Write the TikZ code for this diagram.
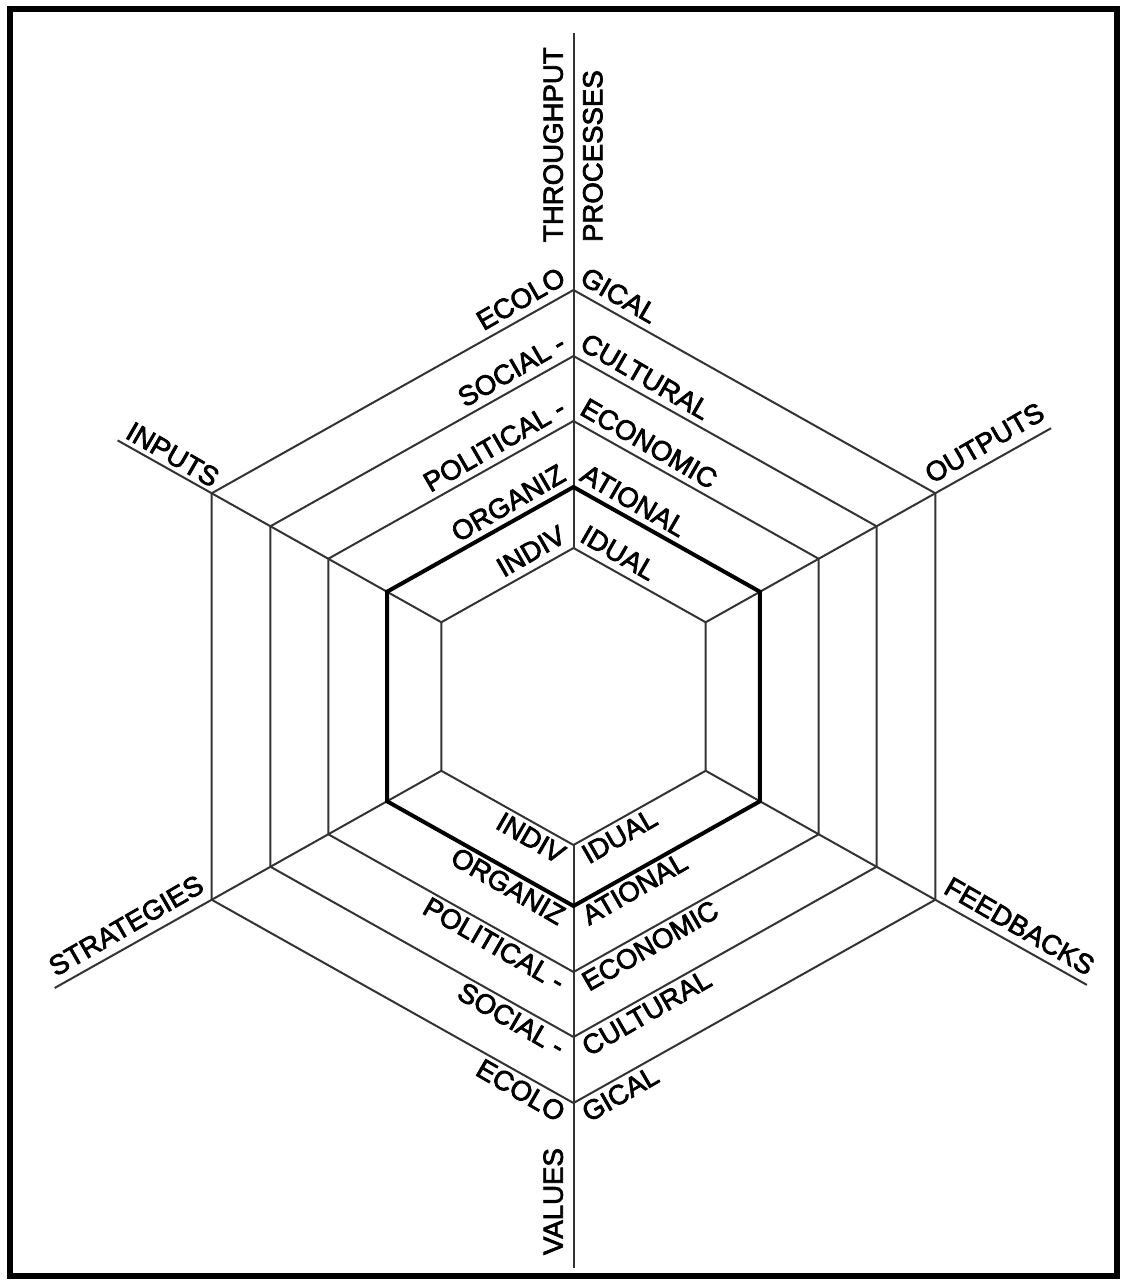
\documentclass[tikz,border=0pt]{standalone}
\usepackage{fontspec}
\setmainfont{Liberation Sans}
\newfontfamily\lblfont{Liberation Sans}[BoldFont={Liberation Sans}, BoldFeatures={FakeBold=2.6}]
\usetikzlibrary{calc}
\begin{document}
\begin{tikzpicture}[x=0.5pt,y=-0.5pt,
  hexline/.style={draw=black!80, line width=1pt},
  thickhex/.style={draw=black, line width=2pt},
  spoke/.style={draw=black!80, line width=1pt},
  lbl/.style={font=\lblfont\bfseries\fontsize{13.8}{16}\selectfont, inner sep=0pt, outer sep=0pt},
]
\useasboundingbox (0,0) rectangle (1122,1282);
\draw[line width=3pt] (10,9) rectangle (1117,1276);
\coordinate (C) at (573.5,696.5);
\foreach \i/\r in {1/148.5,2/209.5,3/275.5,4/340.5,5/406.5}{
  \coordinate (T\i) at ($(C)+(0,-\r)$);
  \coordinate (B\i) at ($(C)+(0,\r)$);
  \coordinate (UR\i) at ($(C)+({0.89*\r},{-\r/2})$);
  \coordinate (LR\i) at ($(C)+({0.89*\r},{\r/2})$);
  \coordinate (UL\i) at ($(C)+({-0.89*\r},{-\r/2})$);
  \coordinate (LL\i) at ($(C)+({-0.89*\r},{\r/2})$);
}
\coordinate (topend) at (573.5,33);
\coordinate (botend) at (573.5,1268);
\coordinate (inend) at ($(C)!1.26!(UL5)$);
\coordinate (outend) at ($(C)!1.32!(UR5)$);
\coordinate (strend) at ($(C)!1.434!(LL5)$);
\coordinate (feedend) at ($(C)!1.419!(LR5)$);
% spokes
\draw[spoke] (topend) -- (T1);
\draw[spoke] (B1) -- (botend);
\draw[spoke] (inend) -- (UL1);
\draw[spoke] (outend) -- (UR1);
\draw[spoke] (strend) -- (LL1);
\draw[spoke] (feedend) -- (LR1);
% hexagons
\foreach \i in {1,3,4,5}{
  \draw[hexline] (T\i) -- (UR\i) -- (LR\i) -- (B\i) -- (LL\i) -- (UL\i) -- cycle;
}
\draw[thickhex] (T2) -- (UR2) -- (LR2) -- (B2) -- (LL2) -- (UL2) -- cycle;
% ring labels
\foreach \i/\a/\b in {5/ECOLO/GICAL,4/SOCIAL -/CULTURAL,3/POLITICAL -/ECONOMIC,2/ORGANIZ/ATIONAL,1/INDIV/IDUAL}{
  \node[lbl, rotate=30, anchor=south east] (tl\i) at ($(T\i)+(-6,-7)$) {\a};
  \node[lbl, rotate=-30, anchor=south west] (tr\i) at ($(T\i)+(5,-7)$) {\b};
  \node[lbl, rotate=-30, anchor=north east] (bl\i) at ($(B\i)+(-6,3)$) {\a};
  \node[lbl, rotate=30, anchor=north west] (br\i) at ($(B\i)+(6,3)$) {\b};
}
% outer labels
\node[lbl, rotate=90, anchor=south west] (thr) at (563,242) {THROUGHPUT};
\node[lbl, rotate=90, anchor=north west] (proc) at (583,242) {PROCESSES};
\node[lbl, rotate=90, anchor=south west] (val) at (563,1255) {VALUES};
\node[lbl, rotate=-30, anchor=south east] (inp) at ($(UL5)+(0,-5)$) {INPUTS};
\node[lbl, rotate=30, anchor=south west] (outp) at ($(UR5)+(-3,-9)$) {OUTPUTS};
\node[lbl, rotate=30, anchor=south east] (strat) at ($(LL5)+(-6,-9)$) {STRATEGIES};
\node[lbl, rotate=-30, anchor=south west] (feed) at ($(LR5)+(7,-7)$) {FEEDBACKS};
\end{tikzpicture}
\end{document}
